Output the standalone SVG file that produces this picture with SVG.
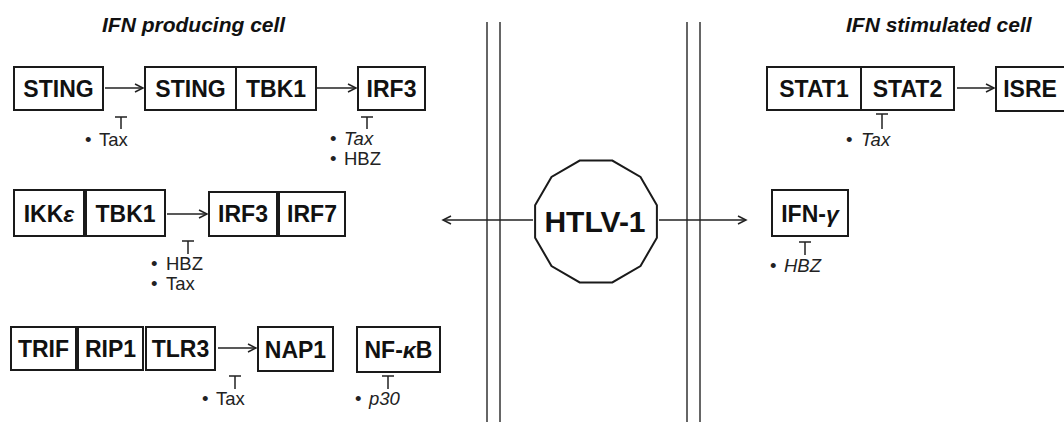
<svg xmlns="http://www.w3.org/2000/svg" width="1064" height="422" viewBox="0 0 1064 422">
<style>
.box{fill:#fff;stroke:#1a1a1a;stroke-width:2}
.bt{font-family:"Liberation Sans",Arial,sans-serif;font-weight:bold;font-size:23px;fill:#111;text-anchor:middle}
.lb{font-family:"Liberation Sans",Arial,sans-serif;font-size:18.5px;fill:#222}
.title{font-family:"Liberation Sans",Arial,sans-serif;font-weight:bold;font-style:italic;font-size:21px;fill:#111}
.ln{stroke:#222;stroke-width:1.5;fill:none}
.mem{stroke:#333;stroke-width:1.5}
.it{font-style:italic}
</style>
<defs>
<marker id="ah" markerWidth="12" markerHeight="12" refX="10" refY="6" orient="auto" markerUnits="userSpaceOnUse">
<polyline points="2,2 10,6 2,10" fill="none" stroke="#222" stroke-width="1.5"/>
</marker>
</defs>
<rect width="1064" height="422" fill="#fff"/>
<g id="titles">
<text class="title" x="102" y="32">IFN producing cell</text>
<text class="title" x="846" y="32">IFN stimulated cell</text>
</g>
<g id="membranes">
<line class="mem" x1="487" y1="22" x2="487" y2="422"/>
<line class="mem" x1="500" y1="22" x2="500" y2="422"/>
<line class="mem" x1="687" y1="22" x2="687" y2="422"/>
<line class="mem" x1="700" y1="22" x2="700" y2="422"/>
</g>
<g id="connectors">
<line class="ln" x1="105" y1="88" x2="143" y2="88" marker-end="url(#ah)"/>
<line class="ln" x1="317" y1="88" x2="356" y2="88" marker-end="url(#ah)"/>
<line class="ln" x1="167" y1="214" x2="207" y2="214" marker-end="url(#ah)"/>
<line class="ln" x1="218" y1="348" x2="256" y2="348" marker-end="url(#ah)"/>
<line class="ln" x1="957" y1="88" x2="994" y2="88" marker-end="url(#ah)"/>
<line class="ln" x1="533" y1="220" x2="443" y2="220" marker-end="url(#ah)"/>
<line class="ln" x1="659" y1="220" x2="746" y2="220" marker-end="url(#ah)"/>
<path class="ln" d="M115,117 H127 M121,117 V129"/>
<path class="ln" d="M361,117 H373 M367,117 V129"/>
<path class="ln" d="M182,241 H194 M188,241 V254"/>
<path class="ln" d="M229,376 H241 M235,376 V389"/>
<path class="ln" d="M382,376 H394 M388,376 V389"/>
<path class="ln" d="M876,114 H888 M882,114 V129"/>
<path class="ln" d="M799,242 H811 M805,242 V255"/>
</g>
<g id="sting">
<rect class="box" x="14" y="67" width="89" height="43"/>
<text class="bt" x="58.5" y="97">STING</text>
</g>
<g id="sting-tbk1">
<rect class="box" x="145" y="67" width="171" height="43"/>
<line class="box" x1="236" y1="67" x2="236" y2="110"/>
<text class="bt" x="190.5" y="97">STING</text>
<text class="bt" x="276" y="97">TBK1</text>
</g>
<g id="irf3-a">
<rect class="box" x="358" y="67" width="67" height="43"/>
<text class="bt" x="391.5" y="97">IRF3</text>
</g>
<g id="ikke">
<rect class="box" x="14" y="190" width="70" height="46"/>
<text class="bt" x="49" y="222">IKK<tspan class="it">ε</tspan></text>
</g>
<g id="tbk1-b">
<rect class="box" x="86" y="190" width="79" height="46"/>
<text class="bt" x="125.5" y="222">TBK1</text>
</g>
<g id="irf3-b">
<rect class="box" x="209" y="192" width="68" height="44"/>
<text class="bt" x="243" y="222">IRF3</text>
</g>
<g id="irf7">
<rect class="box" x="279" y="192" width="66" height="44"/>
<text class="bt" x="312" y="222">IRF7</text>
</g>
<g id="trif">
<rect class="box" x="11" y="327" width="65" height="43"/>
<text class="bt" x="43.5" y="357">TRIF</text>
</g>
<g id="rip1">
<rect class="box" x="78" y="327" width="65" height="43"/>
<text class="bt" x="110.5" y="357">RIP1</text>
</g>
<g id="tlr3">
<rect class="box" x="146" y="327" width="69" height="43"/>
<text class="bt" x="180.5" y="357">TLR3</text>
</g>
<g id="nap1">
<rect class="box" x="258" y="327" width="75" height="44"/>
<text class="bt" x="295.5" y="358">NAP1</text>
</g>
<g id="nfkb">
<rect class="box" x="357" y="327" width="83" height="45"/>
<text class="bt" x="398.5" y="358">NF-<tspan class="it">κ</tspan>B</text>
</g>
<g id="htlv1">
<polygon points="612.3,160.6 579.7,160.6 551.5,177 535.1,205.2 535.1,237.8 551.5,266 579.7,282.4 612.3,282.4 640.5,266 656.9,237.8 656.9,205.2 640.5,177" fill="#fff" stroke="#1a1a1a" stroke-width="2"/>
<text class="bt" x="595" y="232" style="font-size:30px">HTLV-1</text>
</g>
<g id="stat1-stat2">
<rect class="box" x="767" y="67" width="187" height="43"/>
<line class="box" x1="861" y1="67" x2="861" y2="110"/>
<text class="bt" x="814" y="97">STAT1</text>
<text class="bt" x="907.5" y="97">STAT2</text>
</g>
<g id="isre">
<rect class="box" x="996" y="67" width="72" height="44"/>
<text class="bt" x="1030" y="97">ISRE</text>
</g>
<g id="ifng">
<rect class="box" x="772" y="190" width="76" height="46"/>
<text class="bt" x="810" y="222">IFN-<tspan class="it">γ</tspan></text>
</g>
<g id="labels">
<text class="lb" x="85" y="146">•<tspan x="99">Tax</tspan></text>
<text class="lb" x="330" y="145">•<tspan x="344" class="it">Tax</tspan></text>
<text class="lb" x="330" y="165">•<tspan x="344">HBZ</tspan></text>
<text class="lb" x="151" y="270">•<tspan x="166">HBZ</tspan></text>
<text class="lb" x="151" y="290">•<tspan x="166">Tax</tspan></text>
<text class="lb" x="202" y="405">•<tspan x="216">Tax</tspan></text>
<text class="lb" x="355" y="405">•<tspan x="369" class="it">p30</tspan></text>
<text class="lb" x="846" y="146">•<tspan x="861" class="it">Tax</tspan></text>
<text class="lb" x="770" y="272">•<tspan x="784" class="it">HBZ</tspan></text>
</g>
</svg>
